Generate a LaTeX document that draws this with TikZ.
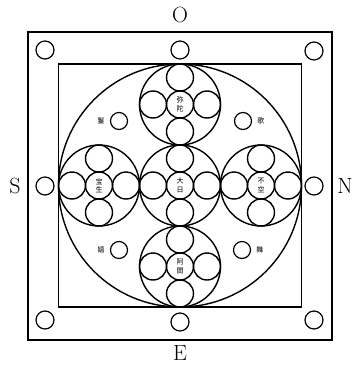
\documentclass[tikz,border=0pt]{standalone}
\usepackage{fontspec}
\newfontfamily\cjk{Noto Sans CJK JP}
\usetikzlibrary{positioning}

\begin{document}
\begin{tikzpicture}[x=1pt, y=-1pt,
  frame/.style={draw, line width=1.2pt, inner sep=0pt},
  ring/.style={draw, circle, line width=1.2pt, minimum size=18pt, inner sep=0pt},
  big/.style={draw, circle, line width=1.4pt, minimum size=243pt, inner sep=0pt},
  mid/.style={draw, circle, line width=1.4pt, minimum size=81pt, inner sep=0pt},
  small/.style={draw, circle, line width=1.4pt, minimum size=27pt, inner sep=0pt,
                align=center, font=\cjk\fontsize{7}{8.5}\selectfont},
  dot/.style={draw, circle, line width=1.2pt, minimum size=17pt, inner sep=0pt},
  side/.style={font=\fontsize{22}{24}\selectfont, inner sep=0pt},
  tag/.style={font=\cjk\fontsize{7}{8}\selectfont, inner sep=0pt}
]
  \useasboundingbox (0,0) rectangle (357,367);

  % frames
  \node[frame, minimum width=304pt, minimum height=308pt] (outer) at (180,186) {};
  \node[frame, minimum width=243pt, minimum height=243pt] (inner) at (180,185.5) {};

  % directions
  \node[side] (west)  at (180,15)  {O};
  \node[side] (east)  at (180,353) {E};
  \node[side] (south) at (15,186)  {S};
  \node[side] (north) at (345,186) {N};

  % circles of the outer band
  \node[ring] (r-tl) at (45,50)   {};
  \node[ring] (r-t)  at (180,50)  {};
  \node[ring] (r-tr) at (314,51)  {};
  \node[ring] (r-l)  at (45,186)  {};
  \node[ring] (r-r)  at (314,186) {};
  \node[ring] (r-bl) at (45,320)  {};
  \node[ring] (r-b)  at (180,322) {};
  \node[ring] (r-br) at (314,320) {};

  \node[big] (disc) at (180,185.5) {};

  % five buddhas, each with four attendants
  \foreach \nm/\cx/\cy/\ta/\tb in {amida/180/104.5/弥/陀, hosho/99/185.5/宝/生,
      dainichi/180/185.5/大/日, fuku/261/185.5/不/空, ashuku/180/266.5/阿/閦} {
    \node[mid] (\nm) at (\cx,\cy) {};
    \node[small] (\nm-c) at (\cx,\cy) {\ta\\\tb};
    \node[small] (\nm-n) at (\cx,\cy-27) {};
    \node[small] (\nm-s) at (\cx,\cy+27) {};
    \node[small] (\nm-w) at (\cx-27,\cy) {};
    \node[small] (\nm-e) at (\cx+27,\cy) {};
  }

  % offering goddesses
  \node[dot] (mala)  at (119,121) {};
  \node[dot] (gita)  at (243,121) {};
  \node[dot] (lasya) at (119,250) {};
  \node[dot] (nrtya) at (242,250) {};
  \node[tag, left=5pt of mala]   (mala-t)  {鬘};
  \node[tag, right=5pt of gita]  (gita-t)  {歌};
  \node[tag, left=5pt of lasya]  (lasya-t) {嬉};
  \node[tag, right=5pt of nrtya] (nrtya-t) {舞};
\end{tikzpicture}
\end{document}
